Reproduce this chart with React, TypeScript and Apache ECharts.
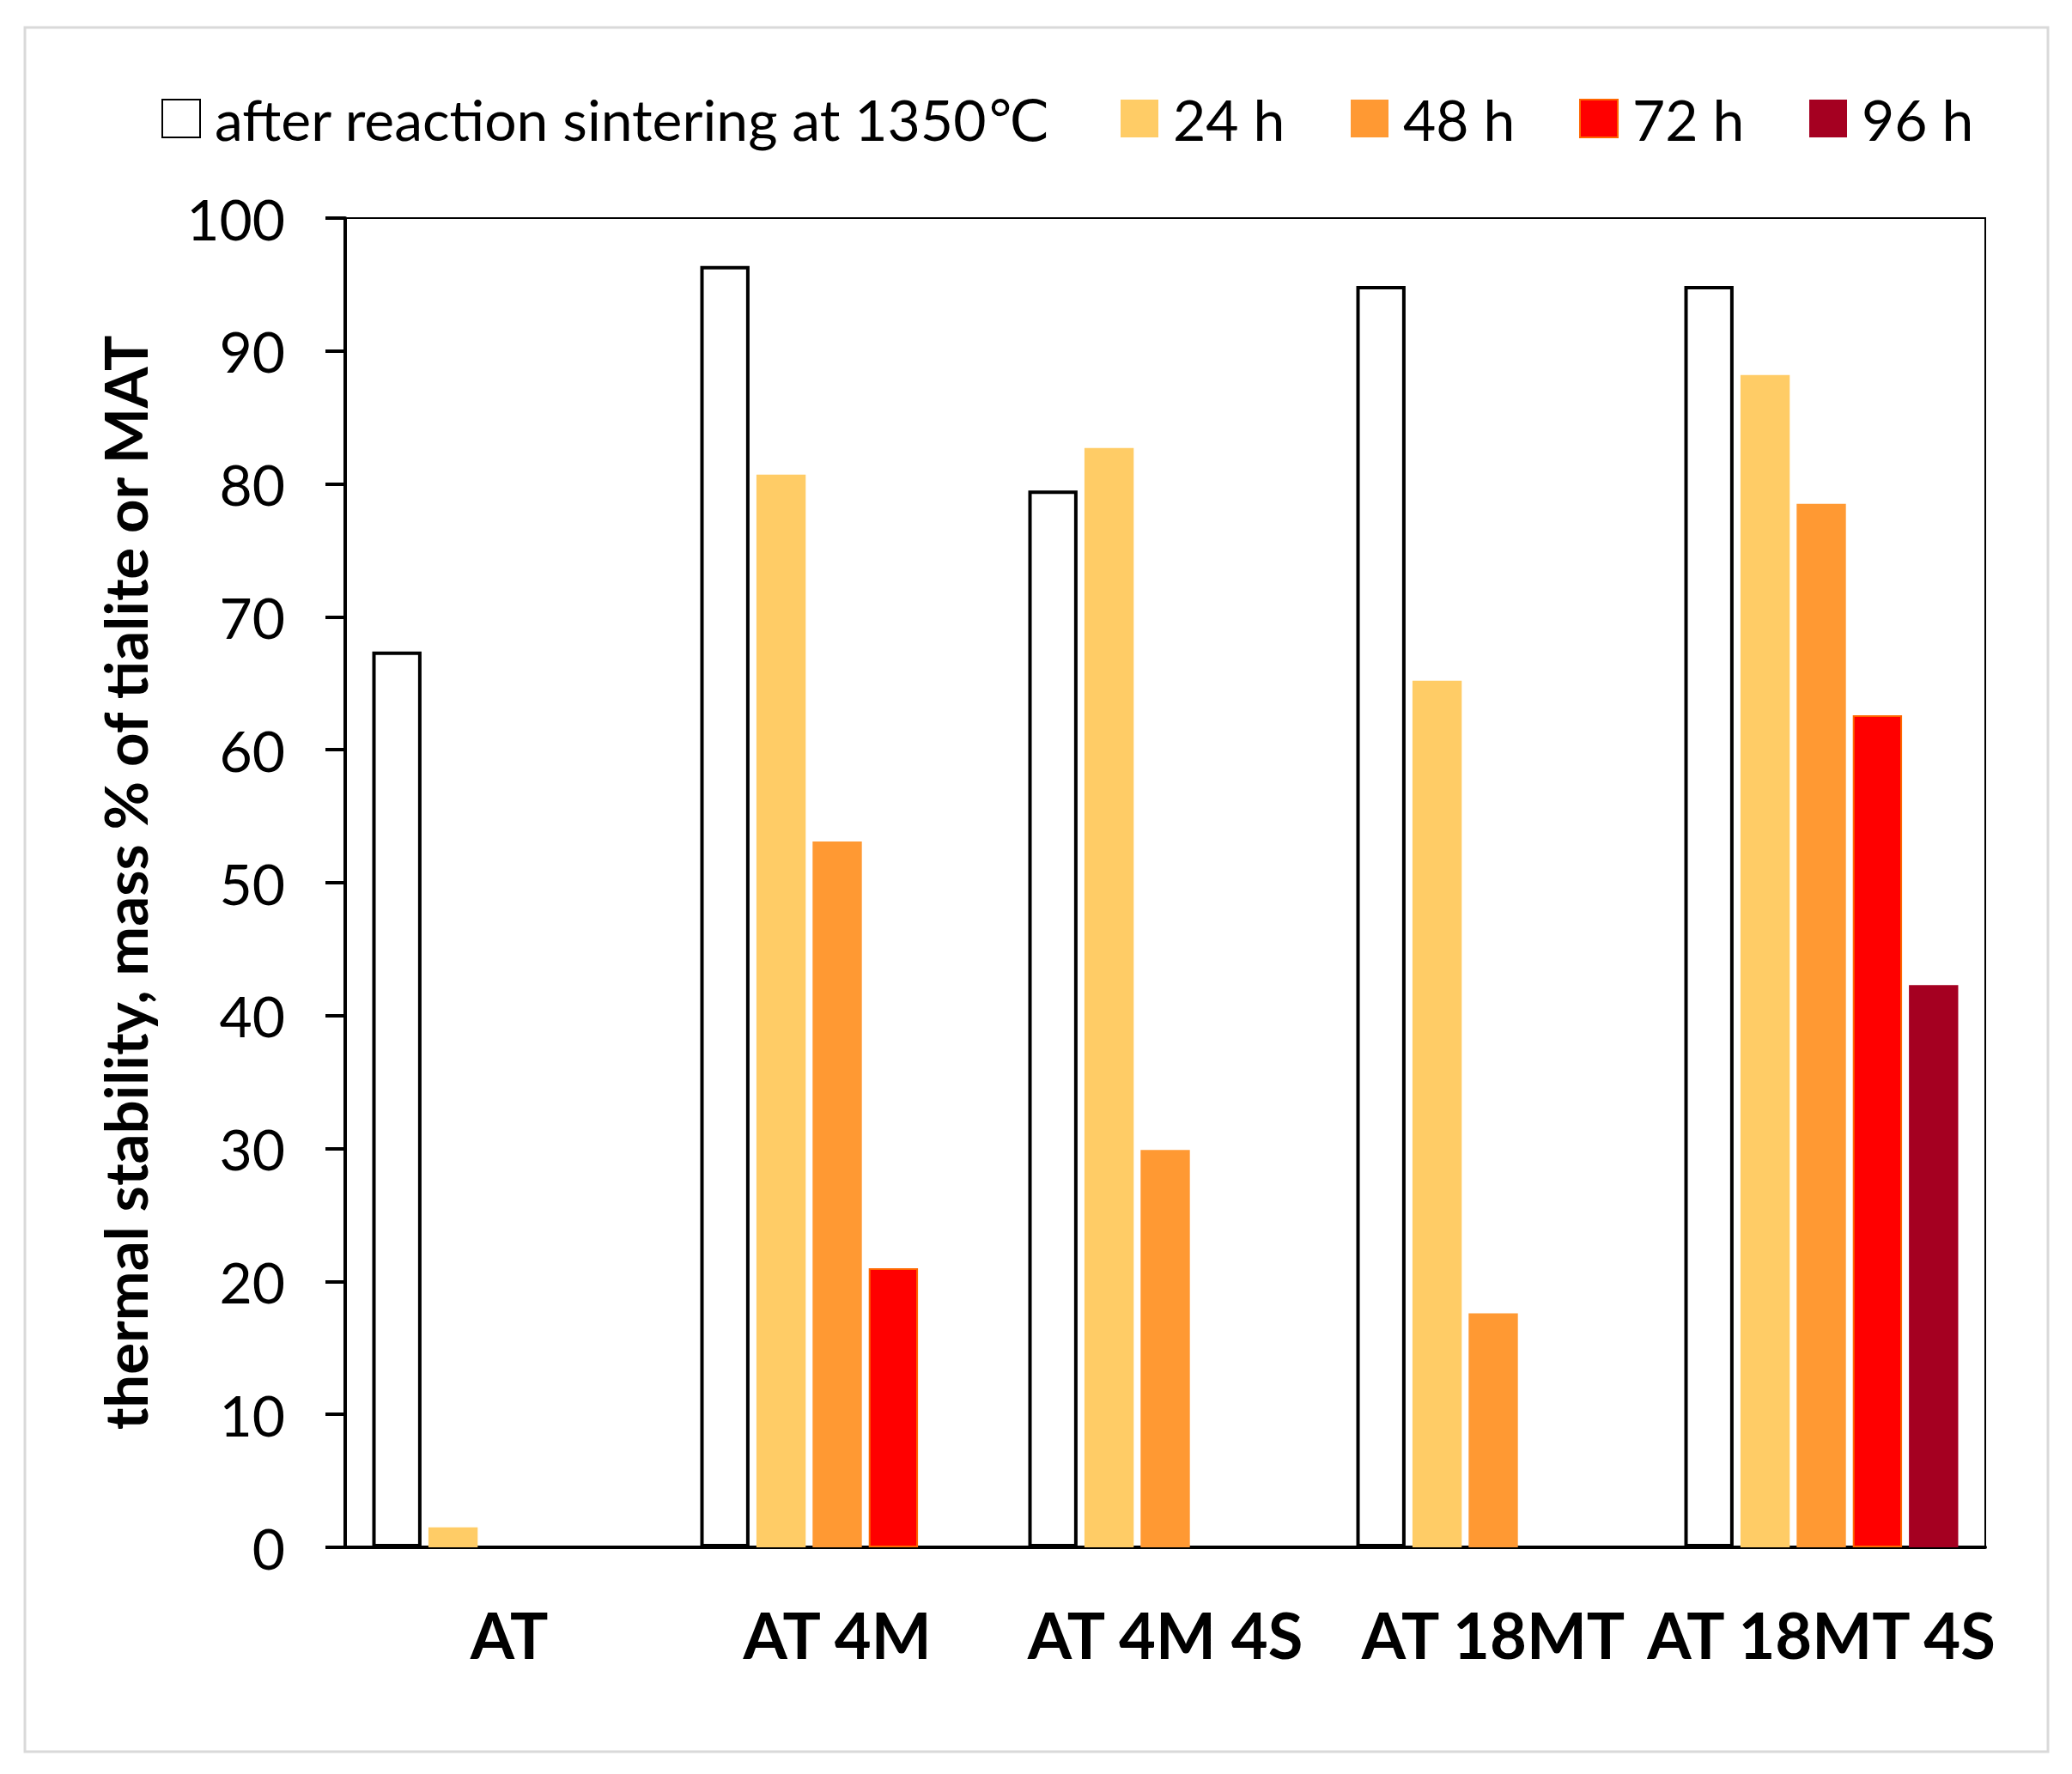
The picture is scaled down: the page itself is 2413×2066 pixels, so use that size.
import React, { useEffect, useRef } from "react";
import * as echarts from "echarts";

const categories = ["AT", "AT 4M", "AT 4M 4S", "AT 18MT", "AT 18MT 4S"];
const seriesNames = ["after reaction sintering at 1350℃", "24 h", "48 h", "72 h", "96 h"];
const sintered = [67.4, 96.4, 79.5, 94.9, 94.9];
const h24 = [1.5, 80.7, 82.7, 65.2, 88.2];
const h48 = [null, 53.1, 29.9, 17.6, 78.5];
const h72 = [null, 21.0, null, null, 62.6];
const h96 = [null, null, null, null, 42.3];
const yMin = 0;
const yMax = 100;
const yStep = 10;

const FONT = "Lato, 'DejaVu Sans', sans-serif";

const seriesStyles = [
  { color: "#ffffff", borderColor: "#000000", borderWidth: 4 },
  { color: "#FFCC66" },
  { color: "#FF9933" },
  { color: "#FF0000", borderColor: "#FF6600", borderWidth: 2 },
  { color: "#A50021" },
];
const legendLefts = [188, 1305, 1573, 1839, 2107];

const App: React.FC = () => {
  const chartRef = useRef<HTMLDivElement>(null);

  useEffect(() => {
    document.body.style.margin = "0";
    if (!chartRef.current) return;
    const chart = echarts.init(chartRef.current, undefined, { renderer: "svg" });

    const values = [sintered, h24, h48, h72, h96];

    const option: any = {
      animation: false,
      backgroundColor: "#ffffff",
      textStyle: { fontFamily: FONT },
      graphic: [
        {
          type: "rect",
          shape: { x: 29, y: 32, width: 2356, height: 2008 },
          style: { fill: "none", stroke: "#d9d9d9", lineWidth: 3 },
          z: -1,
        },
      ],
      legend: seriesNames.map((name, i) => ({
        data: [name],
        left: legendLefts[i],
        top: 105,
        padding: 0,
        itemWidth: 44,
        itemHeight: 44,
        icon: "rect",
        selectedMode: false,
        textStyle: {
          fontFamily: FONT,
          fontSize: 66,
          lineHeight: 66,
          color: "#000",
          padding: [0, 0, 0, 12],
        },
      })),
      grid: {
        left: 402,
        right: 101,
        top: 254,
        bottom: 264,
        show: true,
        borderColor: "#000",
        borderWidth: 2,
        backgroundColor: "transparent",
      },
      xAxis: {
        type: "category",
        data: categories,
        axisLine: { lineStyle: { color: "#000", width: 4 } },
        axisTick: { show: false },
        axisLabel: {
          interval: 0,
          margin: 64,
          fontFamily: FONT,
          fontSize: 74,
          fontWeight: "bold",
          color: "#000",
        },
      },
      yAxis: {
        type: "value",
        min: yMin,
        max: yMax,
        interval: yStep,
        name: "thermal stability, mass % of tialite or MAT",
        nameLocation: "middle",
        nameGap: 222,
        nameTextStyle: {
          fontFamily: FONT,
          fontSize: 69,
          fontWeight: "bold",
          color: "#000",
        },
        axisLine: { show: true, lineStyle: { color: "#000", width: 4 } },
        axisTick: { show: true, length: 23, lineStyle: { color: "#000", width: 4 } },
        splitLine: { show: false },
        axisLabel: {
          margin: 70,
          fontFamily: FONT,
          fontSize: 66,
          color: "#000",
        },
      },
      series: seriesNames.map((name, i) => ({
        name,
        type: "bar",
        data: values[i],
        barGap: "14%",
        barCategoryGap: "16.5%",
        itemStyle: seriesStyles[i],
      })),
    };

    chart.setOption(option);
    return () => {
      chart.dispose();
    };
  }, []);

  return <div ref={chartRef} style={{ width: "2413px", height: "2066px" }} />;
};

export default App;
